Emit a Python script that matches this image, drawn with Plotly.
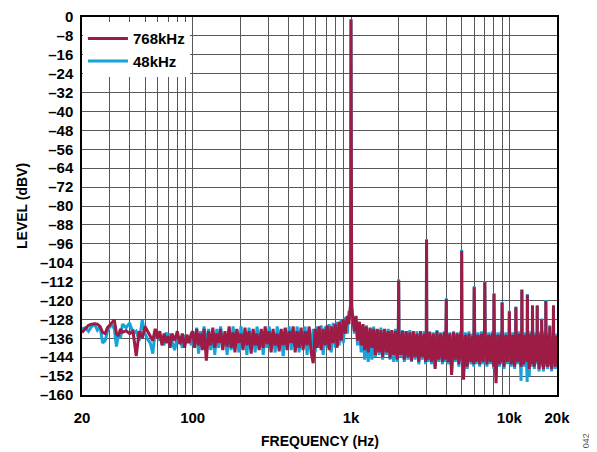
import plotly.graph_objects as go

# ---------------- data ----------------
freq_low_hz = [20, 21, 22, 23, 24, 25, 26, 27, 28, 29, 30, 31, 32, 33, 34, 35, 36,
               38, 40, 42, 44, 46, 48, 50, 52, 54, 56, 58, 60, 62, 64, 66, 68, 70, 72, 74,
               77, 80, 83, 86, 89, 92, 95, 98]
lvl768_low = [-133.5, -132, -130.5, -130, -129.8, -130, -131, -133.5, -134, -131.5,
              -130.5, -129.5, -128.2, -134, -135, -132, -133.5,
              -132.8, -134, -133, -143.5, -133, -136, -131, -133, -135.5, -137, -132, -136,
              -133, -139, -134, -138, -135, -140, -134,
              -137, -133, -138.5, -134, -140, -134.5, -138, -134]
lvl48_low = [-132, -131.5, -133, -131, -130, -132.5, -131, -138, -137, -133,
             -131, -130.5, -132, -139.5, -134, -136, -130,
             -131.5, -129.5, -134, -133, -137, -128.3, -134, -136.5, -138, -142.5, -133, -134.5,
             -137, -135, -139, -133.5, -138, -134, -137.5,
             -141, -135, -136, -140, -134.5, -138, -135, -139]

freq_mid_hz = [100, 103, 106, 109, 112, 115, 118, 122, 126, 130,
               134, 138, 142, 146, 150, 155, 160, 165, 170, 175,
               180, 185, 190, 196, 202, 208, 214, 220, 227, 234,
               241, 248, 255, 263, 271, 279, 287, 295, 304, 313,
               322, 332, 342, 352, 362, 373, 384, 395, 407, 419,
               431, 444, 457, 470, 484, 498, 513, 528, 544, 560,
               577, 594, 611, 629, 648, 667, 687, 707, 728, 750,
               772, 795, 818, 842, 867, 893, 920, 947, 970, 985,
               995]
lvl768_mid = [-133, -140, -132, -139, -134, -141, -132, -145.5, -133, -139,
              -131.5, -140, -134, -138, -132, -141, -133, -139.5, -131, -140,
              -133.5, -142, -132, -138, -134, -141, -131.5, -139, -133, -142.5,
              -132, -139, -134, -141, -132, -140, -131, -138.5, -133, -142,
              -132, -139, -134, -141.5, -132, -139, -131.5, -141, -133, -138,
              -131, -142, -133, -140, -131.5, -141, -133, -139, -131, -142,
              -146.5, -132, -140, -131, -141, -132, -139, -130.5, -141, -131,
              -138, -130, -140, -129, -137, -128, -134, -126.5, -130, -124,
              -122]
lvl48_mid = [-134, -138, -131.5, -142.5, -133, -140, -131, -139, -132, -141,
             -133, -143, -132, -140, -131, -139, -134, -143, -132, -141,
             -131, -139, -133, -142, -131, -140, -134, -143, -131.5, -140,
             -133, -142, -131, -139, -133, -143, -132, -140, -131, -139,
             -133.5, -142, -131, -140, -133, -143.5, -132, -139, -131, -141,
             -133, -139, -131, -142, -133, -139, -131, -143, -133, -140,
             -132, -142, -131, -140, -130.5, -143, -131, -140, -130, -142,
             -129.5, -140, -129, -139, -128, -138, -127, -134, -124.5, -128,
             -123]

freq_high_hz = [1000, 1010, 1025, 1050, 1075, 1100, 1130, 1160, 1190, 1220,
                1250, 1285, 1320, 1355, 1390, 1425, 1465, 1505, 1545, 1585,
                1630, 1675, 1720, 1765, 1810, 1860, 1910, 1960, 1990, 2000,
                2010, 2060, 2115, 2170, 2230, 2290, 2350, 2410, 2475, 2540,
                2610, 2680, 2750, 2820, 2900, 2960, 2990, 3000, 3010, 3060,
                3140, 3220, 3310, 3400, 3490, 3580, 3680, 3780, 3880, 3960,
                3990, 4000, 4010, 4100, 4210, 4320, 4440, 4560, 4680, 4800,
                4920, 4980, 5000, 5020, 5140, 5280, 5420, 5560, 5710, 5860,
                5960, 6000, 6040, 6180, 6340, 6500, 6670, 6840, 6960, 7000,
                7040, 7220, 7410, 7600, 7800, 7960, 8000, 8040, 8240, 8450,
                8670, 8880, 8970, 9000, 9040, 9260, 9500, 9740, 9970, 10000,
                10040, 10280, 10540, 10800, 10970, 11000, 11040, 11300, 11580, 11860,
                11970, 12000, 12040, 12330, 12640, 12960, 13000, 13040, 13350, 13680,
                13960, 14000, 14040, 14380, 14720, 14960, 15000, 15040, 15400, 15760,
                15960, 16000, 16040, 16420, 16800, 16960, 17000, 17040, 17450, 17850,
                17960, 18000, 18040, 18500, 18960, 19000, 19040, 19500, 20000]
lvl768_high = [-1.2, -123, -127, -133, -126.5, -137, -129, -139, -130, -141,
               -131, -142, -131.5, -140, -132, -143, -132, -142, -132.5, -144,
               -132, -142, -133, -144.5, -132.5, -143, -133, -145, -134, -111.5,
               -134, -143, -133, -145, -133, -144, -133.5, -145.5, -133, -144,
               -134, -146, -133, -144, -134, -146, -135, -94.4, -135, -145,
               -133.5, -146, -134, -149, -133, -145, -134, -146, -133.5, -145,
               -134, -119.5, -134, -146, -134, -151.5, -133.5, -145, -134, -147,
               -134, -145, -99, -134, -153.5, -134.5, -148, -134, -146, -135,
               -147, -114.4, -134, -146, -134.5, -147, -134, -146, -135, -112.3,
               -134, -147, -134.5, -146, -134, -148, -117.2, -134, -155, -134.5,
               -147, -134, -146, -121, -134, -148, -134.5, -146, -135, -124.7,
               -134, -147, -134.5, -148, -135, -122.9, -134, -146, -134, -148,
               -135, -115.6, -134, -147, -134.5, -146, -117.7, -134, -149, -134,
               -147, -122.3, -134, -148, -134.5, -146, -122.3, -134, -149, -134,
               -147, -128, -134, -149, -134, -147, -120.2, -134, -148, -134.5,
               -147, -131, -134, -149, -135, -122.3, -134, -148, -135]
lvl48_high = [-0.8, -122, -128, -134, -127, -139, -130, -142, -131, -145,
              -130.5, -146, -132, -145, -131, -144, -132.5, -143, -131.5, -145,
              -133, -143, -132, -145, -133, -146, -132, -146, -133.5, -111,
              -133, -144, -132.5, -146, -133, -145, -132.5, -146, -133.5, -145,
              -133, -147, -134, -145, -133, -147, -134, -94, -134, -146,
              -133, -147, -133.5, -148, -132.5, -146, -133.5, -147, -133, -146,
              -133.5, -119, -133, -147, -133.5, -150, -133, -146, -133.5, -148,
              -133, -146, -98.5, -133, -151, -133.5, -149, -133, -147, -134,
              -148, -114, -133, -147, -133.5, -148, -133, -147, -134, -112,
              -133, -148, -133.5, -147, -133, -149, -116.8, -133, -152, -133.5,
              -148, -133, -147, -120.6, -133, -149, -133.5, -147, -134, -124.3,
              -133, -148, -133.5, -149, -134, -122.5, -133, -147, -133, -154,
              -134, -115.2, -133, -148, -133.5, -154.5, -117.3, -133, -152, -133,
              -148, -121.9, -133, -149, -133.5, -147, -121.9, -133, -150, -133,
              -148, -127.6, -133, -150, -133, -148, -119.8, -133, -149, -133.5,
              -148, -130.5, -133, -150, -134, -121.9, -133, -149, -134]

series_names = ["768kHz", "48kHz"]
x_tick_vals = [20, 100, 1000, 10000, 20000]
x_tick_text = ["20", "100", "1k", "10k", "20k"]
x_minor_vals = [30, 40, 50, 60, 70, 80, 90,
                200, 300, 400, 500, 600, 700, 800, 900,
                2000, 3000, 4000, 5000, 6000, 7000, 8000, 9000]
y_tick_vals = [0, -8, -16, -24, -32, -40, -48, -56, -64, -72, -80, -88, -96,
               -104, -112, -120, -128, -136, -144, -152, -160]
y_tick_text = ["0", "–8", "–16", "–24", "–32", "–40", "–48", "–56", "–64", "–72",
               "–80", "–88", "–96", "–104", "–112", "–120", "–128", "–136", "–144",
               "–152", "–160"]

freq_hz = freq_low_hz + freq_mid_hz + freq_high_hz
lvl_768 = lvl768_low + lvl768_mid + lvl768_high
lvl_48 = lvl48_low + lvl48_mid + lvl48_high
assert len(freq_hz) == len(lvl_768) == len(lvl_48), (len(freq_hz), len(lvl_768), len(lvl_48))

MAROON = "#9c1c45"
CYAN = "#17a3da"
FONT = "Liberation Sans, Arial, sans-serif"

fig = go.Figure()
fig.add_trace(go.Scatter(x=freq_hz, y=lvl_48, mode="lines", name=series_names[1],
                         line=dict(color=CYAN, width=3)))
fig.add_trace(go.Scatter(x=freq_hz, y=lvl_768, mode="lines", name=series_names[0],
                         line=dict(color=MAROON, width=3)))

grid_col = "#585858"
bold14 = dict(family=FONT, size=14, color="black", weight="bold")
bold15 = dict(family=FONT, size=15, color="black", weight="bold")
fig.update_layout(
    width=589, height=441,
    margin=dict(l=74, r=40, t=9, b=54, autoexpand=False),
    paper_bgcolor="white", plot_bgcolor="white",
    font=bold14,
    showlegend=True,
    legend=dict(x=0.002, y=0.986, xanchor="left", yanchor="top",
                bgcolor="white", borderwidth=0, traceorder="reversed",
                font=bold15, itemwidth=40, tracegroupgap=0),
    xaxis=dict(type="log", range=[1.30103, 4.30103], automargin=False,
               tickvals=x_tick_vals, ticktext=x_tick_text, ticks="",
               ticklabelstandoff=8, ticklabeloverflow="allow",
               showgrid=True, gridcolor=grid_col, gridwidth=1,
               minor=dict(tickvals=x_minor_vals, showgrid=True, gridcolor=grid_col,
                          gridwidth=1, ticks=""),
               showline=True, linecolor="black", linewidth=1.5, mirror=True,
               zeroline=False, tickfont=bold15),
    yaxis=dict(range=[-160, 0], automargin=False,
               tickvals=y_tick_vals, ticktext=y_tick_text,
               ticks="", ticklabelstandoff=4, ticklabeloverflow="allow",
               showgrid=True, gridcolor=grid_col, gridwidth=1,
               showline=True, linecolor="black", linewidth=1.5, mirror=True,
               zeroline=False, tickfont=bold15),
    annotations=[
        dict(text="LEVEL (dBV)", xref="paper", yref="paper", x=-0.1263, y=0.5,
             xanchor="center", yanchor="middle", textangle=-90, showarrow=False,
             font=bold14),
        dict(text="FREQUENCY (Hz)", xref="paper", yref="paper", x=0.5, y=-0.122,
             xanchor="center", yanchor="middle", showarrow=False,
             font=bold14),
        dict(text="042", xref="paper", yref="paper", x=1.061, y=-0.12,
             xanchor="center", yanchor="middle", textangle=-90, showarrow=False,
             font=dict(family=FONT, size=9, color="#555555", weight="normal")),
    ],
)

fig.write_html("out.html")
